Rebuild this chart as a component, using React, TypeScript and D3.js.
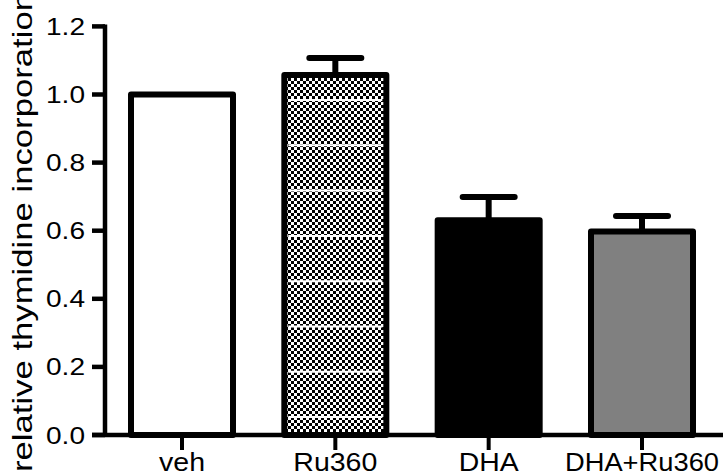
import React from 'react';
import * as d3 from 'd3';

// ---- data ----
const categories: string[] = ['veh', 'Ru360', 'DHA', 'DHA+Ru360'];
const means: number[] = [1.0, 1.057, 0.631, 0.598];
const sems: number[] = [0, 0.05, 0.068, 0.045];
const yTicks: number[] = [0, 0.2, 0.4, 0.6, 0.8, 1.0, 1.2];
const yTickLabels: string[] = ['0.0', '0.2', '0.4', '0.6', '0.8', '1.0', '1.2'];
const yTitle = 'relative thymidine incorporation';

// ---- styling ----
const W = 726;
const H = 476;
const fills: string[] = ['#ffffff', 'url(#checker)', '#000000', '#808080'];
const labelLength: Record<string, number> = { veh: 46, Ru360: 84, DHA: 60, 'DHA+Ru360': 154 };
const FONT = "'Liberation Sans', Arial, Helvetica, sans-serif";

export default function App() {
  const y = d3.scaleLinear().domain([0, 1.2]).range([435, 26.4]);
  const x = d3.scalePoint<string>().domain(categories).range([182, 642]);
  const barW = 102;
  const axisX = 105;
  const stripeYs = d3.range(100, 432, 45.3);

  return (
    <svg
      width={W}
      height={H}
      style={{ position: 'absolute', left: 0, top: 0, background: '#fff' }}
      fontFamily={FONT}
    >
      <defs>
        <pattern id="checker" width={6} height={6} patternUnits="userSpaceOnUse">
          <rect width={6} height={6} fill="#ffffff" />
          <rect x={0} y={0} width={3} height={3} fill="#000" />
          <rect x={3} y={3} width={3} height={3} fill="#000" />
        </pattern>
      </defs>

      {/* bars */}
      {categories.map((c, i) => {
        const cx = x(c) as number;
        const top = y(means[i]);
        return (
          <g key={c}>
            <rect
              x={cx - barW / 2}
              y={top}
              width={barW}
              height={y(0) - top}
              fill={fills[i]}
              stroke="#000"
              strokeWidth={6}
              strokeLinejoin="round"
            />
            {i === 1 &&
              stripeYs
                .filter((sy) => sy > top + 6)
                .map((sy) => (
                  <line
                    key={sy}
                    x1={cx - barW / 2 + 4}
                    x2={cx + barW / 2 - 4}
                    y1={sy}
                    y2={sy}
                    stroke="#ffffff"
                    strokeWidth={2}
                  />
                ))}
            {sems[i] > 0 && (
              <g stroke="#000" strokeWidth={6} strokeLinecap="round">
                <line x1={cx} x2={cx} y1={top} y2={y(means[i] + sems[i])} strokeLinecap="butt" />
                <line x1={cx - 26} x2={cx + 26} y1={y(means[i] + sems[i])} y2={y(means[i] + sems[i])} />
              </g>
            )}
          </g>
        );
      })}

      {/* y axis */}
      <line x1={axisX} x2={axisX} y1={y(1.2) - 2} y2={y(0) + 2} stroke="#000" strokeWidth={4.5} />
      {yTicks.map((t, i) => (
        <g key={t}>
          <line x1={92} x2={axisX} y1={y(t)} y2={y(t)} stroke="#000" strokeWidth={4.5} />
          <text
            x={85}
            y={y(t) + 8.5}
            textAnchor="end"
            fontSize={24}
            textLength={39}
            lengthAdjust="spacingAndGlyphs"
            fill="#000"
          >
            {yTickLabels[i]}
          </text>
        </g>
      ))}

      {/* x axis */}
      <line x1={92} x2={723} y1={y(0)} y2={y(0)} stroke="#000" strokeWidth={4.5} />
      {categories.map((c) => {
        const cx = x(c) as number;
        return (
          <g key={c}>
            <line x1={cx} x2={cx} y1={y(0)} y2={y(0) + 15} stroke="#000" strokeWidth={4} />
            <text
              x={cx}
              y={471}
              textAnchor="middle"
              fontSize={25}
              textLength={labelLength[c]}
              lengthAdjust="spacingAndGlyphs"
              fill="#000"
            >
              {c}
            </text>
          </g>
        );
      })}

      {/* y title */}
      <text
        transform="translate(32,472) rotate(-90)"
        fontSize={28}
        textLength={480}
        lengthAdjust="spacingAndGlyphs"
        fill="#000"
      >
        {yTitle}
      </text>
    </svg>
  );
}
